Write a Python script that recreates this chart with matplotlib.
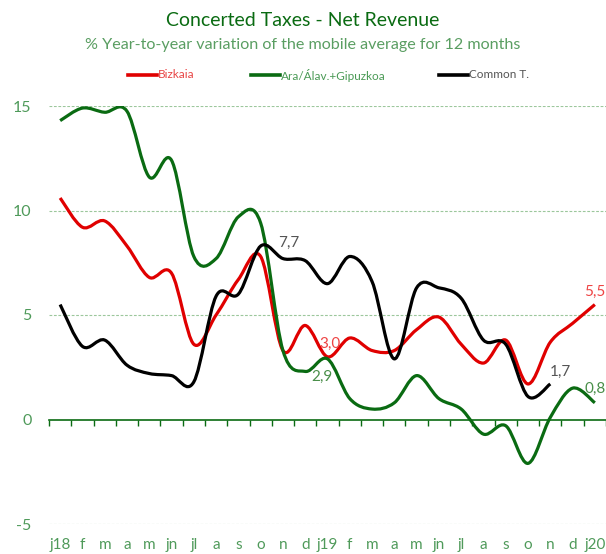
import matplotlib
matplotlib.use("Agg")
import matplotlib.pyplot as plt
from matplotlib.path import Path
from matplotlib.patches import PathPatch
from matplotlib.lines import Line2D
import numpy as np

plt.rcParams['font.family'] = ['Lato', 'DejaVu Sans']

months = ["j18", "f", "m", "a", "m", "jn", "jl", "a", "s", "o", "n", "d",
          "j19", "f", "m", "a", "m", "jn", "jl", "a", "s", "o", "n", "d", "j20"]

bizkaia = [10.6, 9.2, 9.5, 8.3, 6.8, 7.0, 3.6, 5.0, 6.7, 7.8, 3.3, 4.5,
           3.0, 3.9, 3.3, 3.3, 4.3, 4.9, 3.6, 2.7, 3.8, 1.7, 3.7, 4.6, 5.5]
araba_gip = [14.3, 14.9, 14.7, 14.75, 11.6, 12.4, 7.8, 7.7, 9.7, 9.4, 3.3, 2.3,
             2.9, 1.0, 0.5, 0.8, 2.1, 1.0, 0.5, -0.7, -0.3, -2.1, 0.1, 1.5, 0.8]
common = [5.5, 3.5, 3.8, 2.6, 2.2, 2.1, 1.8, 5.9, 6.0, 8.3, 7.7, 7.6,
          6.5, 7.8, 6.6, 2.9, 6.3, 6.3, 5.8, 3.8, 3.6, 1.1, 1.7]

RED = "#e00000"
GREEN = "#0a6b12"
BLACK = "#000000"
TXT_GREEN = "#4f9a5a"

W, H = 606, 554
fig = plt.figure(figsize=(W / 100, H / 100), dpi=100)
ax = fig.add_axes([49 / W, (H - 524) / H, 557 / W, (524 - 106) / H])


def smooth_path(xs, ys):
    pts = np.column_stack([xs, ys]).astype(float)
    n = len(pts)
    verts = [pts[0]]
    codes = [Path.MOVETO]
    for i in range(n - 1):
        p0 = pts[i - 1] if i > 0 else pts[i]
        p1 = pts[i]
        p2 = pts[i + 1]
        p3 = pts[i + 2] if i + 2 < n else pts[i + 1]
        c1 = p1 + (p2 - p0) / 6.0
        c2 = p2 - (p3 - p1) / 6.0
        verts += [c1, c2, p2]
        codes += [Path.CURVE4] * 3
    return Path(verts, codes)


for series, color in [(bizkaia, RED), (araba_gip, GREEN), (common, BLACK)]:
    x = np.arange(len(series))
    patch = PathPatch(smooth_path(x, series), facecolor="none", edgecolor=color,
                      lw=2.3, capstyle="butt", joinstyle="round", zorder=3)
    ax.add_patch(patch)

ax.set_xlim(-0.5, len(months) - 0.5)
ax.set_ylim(-5, 15)
ax.set_yticks([-5, 0, 5, 10, 15])
ax.set_yticklabels(["-5", "0", "5", "10", "15"])
for yv in [-5, 5, 10, 15]:
    ax.axhline(yv, color="#9cc79c", lw=0.8, ls=(0, (2.5, 1.5)), zorder=1)

ax.set_xticks(np.arange(len(months)))
ax.set_xticklabels(months)
ax.tick_params(axis="x", length=0, pad=10, labelsize=11, labelcolor=TXT_GREEN)
ax.tick_params(axis="y", length=0, pad=12.5, labelsize=11.5, labelcolor=TXT_GREEN)
for s in ax.spines.values():
    s.set_visible(False)

# horizontal axis at zero with boundary ticks
sec = ax.secondary_xaxis(0.25)
sec.set_xticks(np.arange(-0.5, len(months), 1.0))
sec.set_xticklabels([])
sec.tick_params(axis="x", direction="out", length=4, width=1, color=GREEN)
sec.spines["bottom"].set_color(GREEN)
sec.spines["bottom"].set_linewidth(1.2)


def lab(i, series, text, color, dx, dy, ha="center"):
    ax.annotate(text, (i, series[i]), xytext=(dx, dy), textcoords="offset points",
                color=color, fontsize=11, ha=ha, va="center", zorder=4,
                annotation_clip=False)


lab(10, common, "7,7", "#555555", 4, 11)
lab(12, bizkaia, "3,0", "#ee4444", 2, 9)
lab(12, araba_gip, "2,9", "#4a8f4a", -4, -13)
lab(24, bizkaia, "5,5", "#ee4444", 0, 9)
lab(24, araba_gip, "0,8", "#4a8f4a", 7.5, 10, ha="right")
lab(22, common, "1,7", "#555555", 7, 9)

fig.text(0.5, 1 - 21 / H, "Concerted Taxes - Net Revenue", ha="center", va="center",
         fontsize=14, color="#0a6b12")
fig.text(0.5, 1 - 45 / H, "% Year-to-year variation of the mobile average for 12 months",
         ha="center", va="center", fontsize=11.6, color="#5a9e62")

# legend
legend_items = [("Bizkaia", RED, "#e84545", 128),
                ("Ara/Álav.+Gipuzkoa", GREEN, "#4a9a55", 251),
                ("Common T.", BLACK, "#555555", 439)]
ly = 1 - 75 / H
for name, lc, tc, x0 in legend_items:
    fig.add_artist(Line2D([x0 / W, (x0 + 29) / W], [ly, ly], color=lc, lw=2.6,
                          transform=fig.transFigure))
    fig.text((x0 + 30) / W, ly, name, ha="left", va="center", fontsize=8.5, color=tc)

fig.savefig("out.png", dpi=100)
